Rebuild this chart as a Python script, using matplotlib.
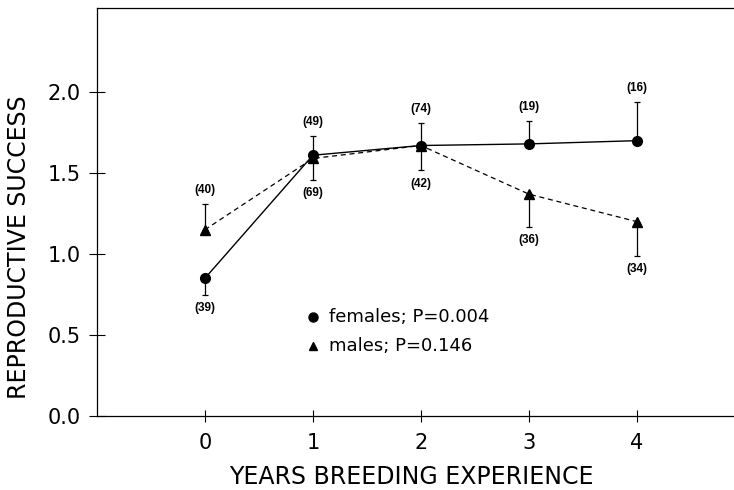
import matplotlib
matplotlib.use("Agg")
import matplotlib.pyplot as plt

years = [0, 1, 2, 3, 4]
female_mean = [0.85, 1.61, 1.67, 1.68, 1.70]
female_se = [0.10, 0.12, 0.14, 0.14, 0.24]
female_n = ["(39)", "(49)", "(74)", "(19)", "(16)"]
female_dir = [-1, 1, 1, 1, 1]

male_mean = [1.15, 1.59, 1.67, 1.37, 1.20]
male_se = [0.16, 0.13, 0.15, 0.20, 0.21]
male_n = ["(40)", "(69)", "(42)", "(36)", "(34)"]
male_dir = [1, -1, -1, -1, -1]

yticks = [0.0, 0.5, 1.0, 1.5, 2.0]
xticks = [0, 1, 2, 3, 4]

plt.rcParams['font.family'] = ['DejaVu Sans']

fig = plt.figure(figsize=(7.34, 4.9), dpi=100)
ax = fig.add_axes([0.132, 0.151, 0.868, 0.833])

def one_sided(se, d):
    lo = [s if k < 0 else 0 for s, k in zip(se, d)]
    hi = [s if k > 0 else 0 for s, k in zip(se, d)]
    return [lo, hi]

ax.errorbar(years, female_mean, yerr=one_sided(female_se, female_dir),
            fmt='o-', color='black', lw=1.0, ms=7, elinewidth=0.9, capsize=2.5, capthick=0.9)
ax.errorbar(years, male_mean, yerr=one_sided(male_se, male_dir),
            fmt='^', color='black', ms=6.5, elinewidth=0.9, capsize=2.5, capthick=0.9)
ax.plot(years, male_mean, '--', color='black', lw=0.9, dashes=(4, 3))

for x, m, s, d, n in zip(years, female_mean, female_se, female_dir, female_n):
    ax.text(x, m + d * (s + 0.085), n, ha='center', va='center',
            fontsize=8.5, fontweight='bold', family=['Liberation Sans', 'DejaVu Sans'])
for x, m, s, d, n in zip(years, male_mean, male_se, male_dir, male_n):
    ax.text(x, m + d * (s + 0.085), n, ha='center', va='center',
            fontsize=8.5, fontweight='bold', family=['Liberation Sans', 'DejaVu Sans'])

# legend drawn as text
ax.plot([1.0], [0.61], 'o', color='black', ms=6.5)
ax.text(1.15, 0.61, "females; P=0.004", va='center', ha='left', fontsize=13)
ax.plot([1.0], [0.43], '^', color='black', ms=6)
ax.text(1.15, 0.43, "males; P=0.146", va='center', ha='left', fontsize=13)

ax.set_xlim(-1, 4.9)
ax.set_ylim(0, 2.52)
ax.set_xticks(xticks)
ax.set_xticklabels([str(v) for v in xticks])
ax.set_yticks(yticks)
ax.set_yticklabels([f"{v:.1f}" for v in yticks])
ax.tick_params(axis='x', direction='inout', length=8, width=0.8, labelsize=15, pad=8)
ax.tick_params(axis='y', direction='inout', length=11, width=0.8, labelsize=15, pad=6)

ax.spines['right'].set_visible(False)
for sp in ['left', 'bottom', 'top']:
    ax.spines[sp].set_linewidth(0.9)

ax.set_ylabel("REPRODUCTIVE SUCCESS", fontsize=17)
ax.set_xlabel("YEARS BREEDING EXPERIENCE", fontsize=17)
ax.yaxis.set_label_coords(-0.122, 0.414)
ax.yaxis.label.set_va('center')
ax.xaxis.set_label_coords(0.493, -0.15)
ax.xaxis.label.set_va('center')

fig.savefig("out.png", dpi=100)
